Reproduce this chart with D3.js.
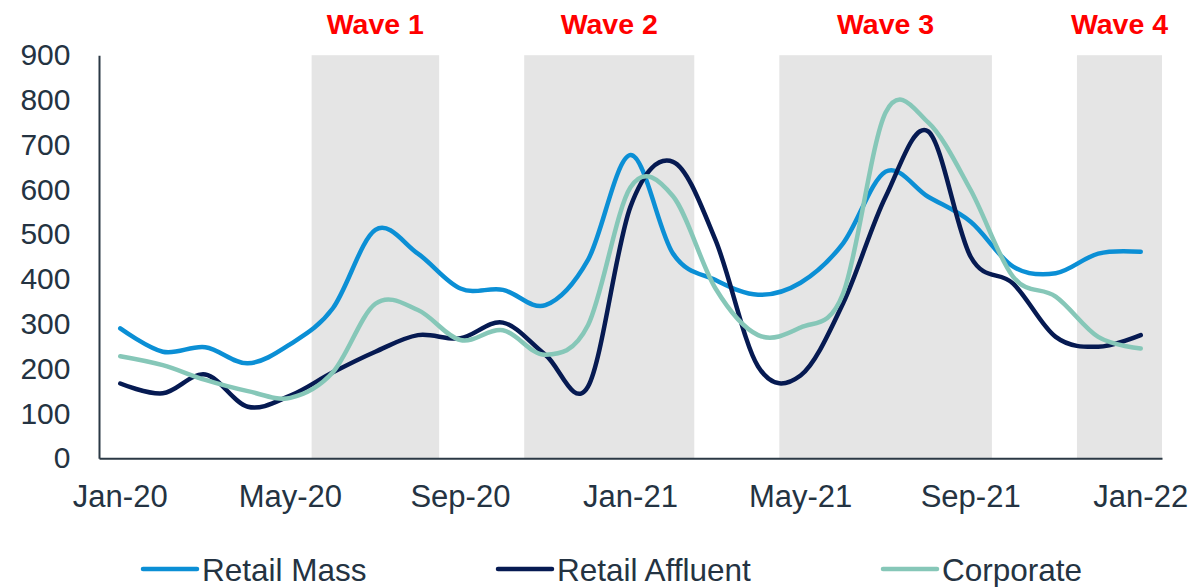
<!DOCTYPE html>
<html>
<head>
<meta charset="utf-8">
<script src="https://cdn.jsdelivr.net/npm/d3@7"></script>
<style>
  html, body { margin: 0; padding: 0; background: #ffffff; }
  svg { display: block; font-family: "Liberation Sans", Arial, sans-serif; }
</style>
</head>
<body>
<svg id="chart" width="1193" height="587"></svg>
<script>
// ---- data ----
const months = ["Jan-20","Feb-20","Mar-20","Apr-20","May-20","Jun-20","Jul-20","Aug-20","Sep-20","Oct-20","Nov-20","Dec-20",
                "Jan-21","Feb-21","Mar-21","Apr-21","May-21","Jun-21","Jul-21","Aug-21","Sep-21","Oct-21","Nov-21","Dec-21","Jan-22"];
const retailMass     = [290, 238, 248, 212, 255, 335, 510, 457, 379, 376, 342, 443, 677, 457, 398, 365, 392, 480, 640, 584, 528, 428, 413, 457, 461];
const retailAffluent = [167, 145, 187, 115, 140, 192, 238, 275, 268, 303, 231, 160, 562, 662, 487, 205, 185, 346, 584, 730, 450, 390, 271, 249, 275];
const corporate      = [228, 208, 175, 150, 135, 192, 345, 331, 264, 286, 231, 297, 605, 585, 379, 275, 292, 368, 772, 750, 599, 405, 361, 271, 245];
const seriesNames  = ["Retail Mass", "Retail Affluent", "Corporate"];
const waveNames  = ["Wave 1", "Wave 2", "Wave 3", "Wave 4"];
const waveStart  = ["Jun-20", "Nov-20", "May-21", "Dec-21"];
const waveEnd    = ["Aug-20", "Feb-21", "Sep-21", "Jan-22"];
const yTicks = [0, 100, 200, 300, 400, 500, 600, 700, 800, 900];
const xTickLabels = ["Jan-20", "May-20", "Sep-20", "Jan-21", "May-21", "Sep-21", "Jan-22"];

// ---- layout / style ----
const colors = ["#0b8fd5", "#061a52", "#86c7b8"];
const textColor = "#243342";
const plot = { left: 99, right: 1162, top: 55.2, bottom: 458.3 };

const svg = d3.select("#chart");
const x = d3.scaleBand().domain(months).range([plot.left, plot.right]).paddingInner(0).paddingOuter(0);
const y = d3.scaleLinear().domain([0, 900]).range([plot.bottom, plot.top]);
const cx = m => x(m) + x.bandwidth() / 2;

// wave bands
const waves = waveNames.map((n, i) => ({ name: n, s: waveStart[i], e: waveEnd[i] }));
svg.append("g").selectAll("rect").data(waves).join("rect")
  .attr("x", d => x(d.s))
  .attr("width", d => x(d.e) + x.bandwidth() - x(d.s))
  .attr("y", y(900))
  .attr("height", y(0) - y(900))
  .attr("fill", "#e5e5e5");

svg.append("g").selectAll("text").data(waves).join("text")
  .attr("x", d => (x(d.s) + x(d.e) + x.bandwidth()) / 2)
  .attr("y", 34)
  .attr("text-anchor", "middle")
  .attr("font-size", "28.5px")
  .attr("font-weight", "bold")
  .attr("fill", "#ff0000")
  .text(d => d.name);

// y axis
const yAxis = svg.append("g").attr("transform", `translate(${plot.left},0)`)
  .call(d3.axisLeft(y).tickValues(yTicks).tickSize(0).tickPadding(28.5).tickFormat(d3.format("d")));
yAxis.select(".domain").attr("stroke", "#2b3945").attr("stroke-width", 2);
yAxis.selectAll("text").attr("font-size", "30px").attr("fill", textColor)
  .attr("font-family", "'Liberation Sans', Arial, sans-serif");

// x axis
const xAxis = svg.append("g").attr("transform", `translate(0,${plot.bottom})`)
  .call(d3.axisBottom(x).tickValues(xTickLabels).tickSize(0).tickSizeOuter(0));
xAxis.select(".domain").attr("stroke", "#2b3945").attr("stroke-width", 2);
xAxis.selectAll("text").attr("font-size", "31px").attr("fill", textColor)
  .attr("y", 49).attr("dy", 0)
  .attr("font-family", "'Liberation Sans', Arial, sans-serif");

// lines
const allSeries = [retailMass, retailAffluent, corporate];
const line = d3.line().x((d, i) => cx(months[i])).y(d => y(d)).curve(d3.curveCatmullRom.alpha(0));
svg.append("g").selectAll("path").data(allSeries).join("path")
  .attr("d", d => line(d))
  .attr("fill", "none")
  .attr("stroke", (d, i) => colors[i])
  .attr("stroke-width", 4.5)
  .attr("stroke-linecap", "round")
  .attr("stroke-linejoin", "round");

// legend
const legendX = [143, 498, 883];
const lg = svg.append("g").selectAll("g").data(seriesNames).join("g")
  .attr("transform", (d, i) => `translate(${legendX[i]},569)`);
lg.append("line").attr("x1", 0).attr("x2", 54).attr("y1", 0).attr("y2", 0)
  .attr("stroke", (d, i) => colors[i]).attr("stroke-width", 4.5).attr("stroke-linecap", "round");
lg.append("text").attr("x", 59).attr("y", 12).attr("font-size", "31.5px").attr("fill", textColor).text(d => d);
</script>
</body>
</html>
